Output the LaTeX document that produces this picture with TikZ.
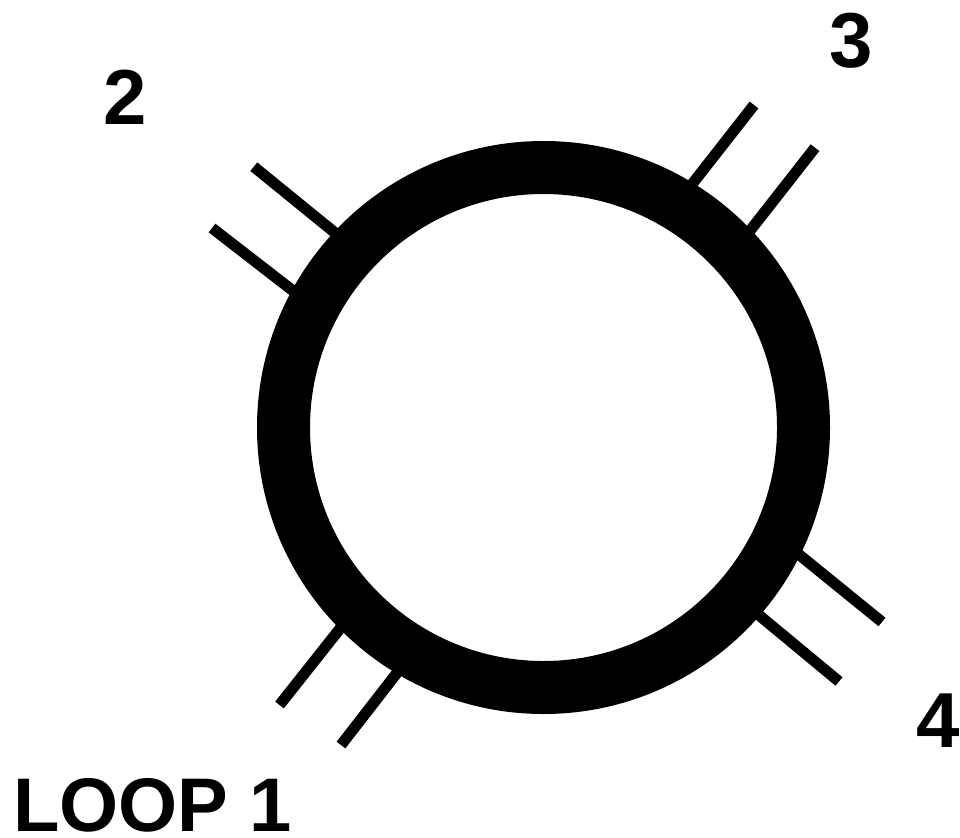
\documentclass[tikz,border=0pt]{standalone}
\usepackage{fontspec}
\setmainfont{Liberation Sans}
\usetikzlibrary{calc}
\begin{document}
\begin{tikzpicture}[x=1pt,y=-1pt,
  tick/.style={line width=11pt, line cap=butt, black},
  lbl/.style={inner sep=0pt, font=\fontsize{78}{94}\selectfont\bfseries}]
\useasboundingbox (0,0) rectangle (960,837);
% tick mark end points
\coordinate (a1) at (253.8,166.7); \coordinate (b1) at (334.9,232.7);
\coordinate (a2) at (212,228);     \coordinate (b2) at (292,290);
\coordinate (a3) at (754,105);     \coordinate (b3) at (692.7,183.3);
\coordinate (a4) at (815,147.7);   \coordinate (b4) at (750,230.7);
\coordinate (a5) at (882,622);     \coordinate (b5) at (799.5,555);
\coordinate (a6) at (839,681.5);   \coordinate (b6) at (760,616);
\coordinate (a7) at (279.5,705);   \coordinate (b7) at (338.9,630);
\coordinate (a8) at (341,745);     \coordinate (b8) at (398,671.6);
\foreach \i in {1,...,8}{
  \draw[tick] (a\i) -- ($(a\i)!1.25!(b\i)$);
}
\node[circle, draw=black, line width=53pt, minimum size=520pt, inner sep=0pt] (ring) at (543.5,427.5) {};
\node[lbl, anchor=base] (l2) at (125.5,125) {2};
\node[lbl, anchor=base] (l3) at (851,68) {3};
\node[lbl, anchor=base] (l4) at (938,747) {4};
\node[lbl, font=\fontsize{76}{90}\selectfont\bfseries, anchor=base west] (loop) at (13,831) {LOOP 1};
\end{tikzpicture}
\end{document}
